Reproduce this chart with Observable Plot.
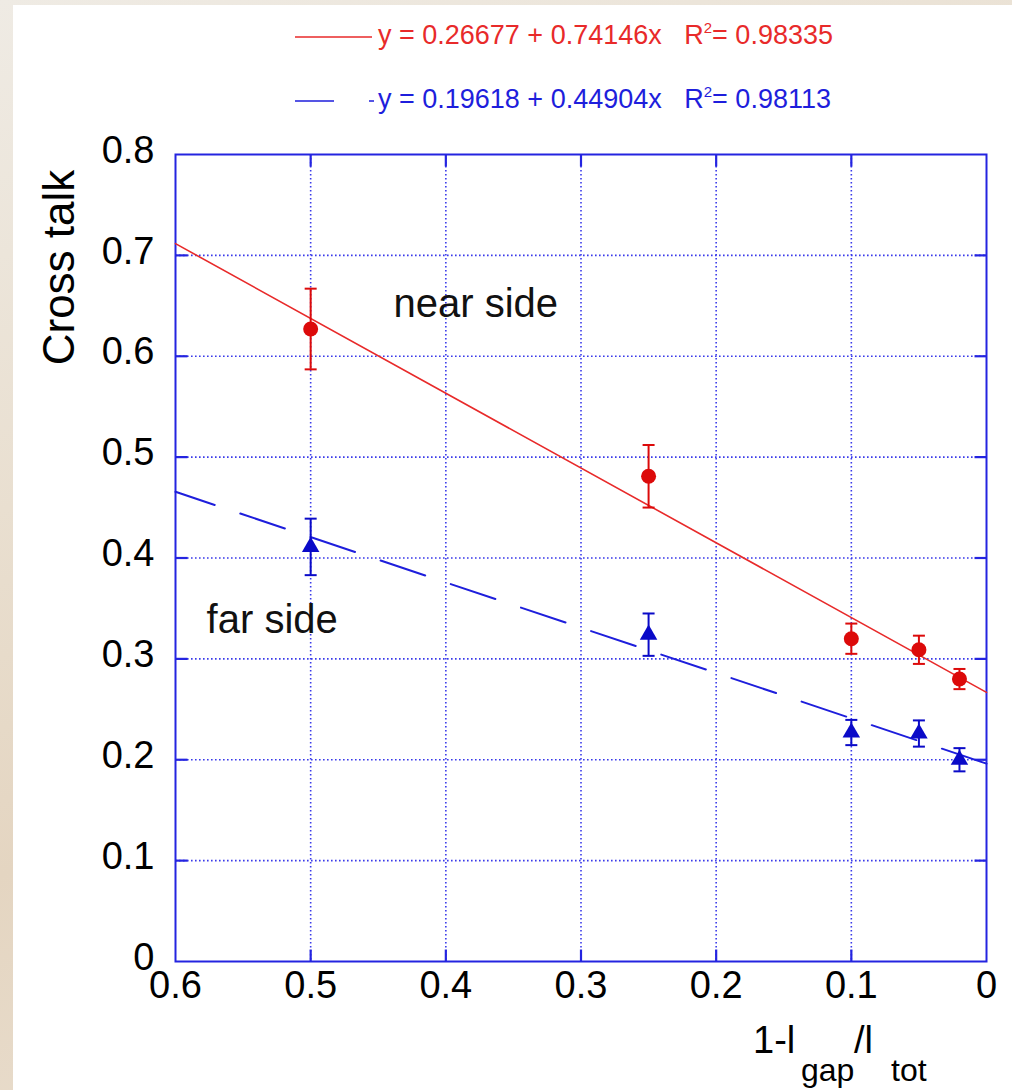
<!DOCTYPE html>
<html>
<head>
<meta charset="utf-8">
<script src="https://cdn.jsdelivr.net/npm/d3@7"></script>
<script src="https://cdn.jsdelivr.net/npm/@observablehq/plot@0.6"></script>
<style>
  html, body { margin: 0; padding: 0; }
  body {
    width: 1012px; height: 1090px; overflow: hidden; position: relative;
    background: linear-gradient(160deg, #efebe4 0%, #e9dfd0 35%, #e4d5c1 60%, #ece3d6 100%);
    font-family: "Liberation Sans", Arial, Helvetica, sans-serif;
  }
  #paper { position: absolute; left: 13px; top: 5px; width: 999px; height: 1085px; background: #fff; }
  #chart { position: absolute; left: 0; top: 0; }
  #chart svg { background: transparent; }
  .legend { position: absolute; left: 295px; font-size: 27px; white-space: nowrap; line-height: 1; }
  .legend svg { vertical-align: middle; }
  .xl { position: absolute; color: #000; white-space: nowrap; line-height: 1; }
  .xl.main { font-size: 38px; top: 1021px; }
  .xl.sub { font-size: 32px; top: 1054px; }
</style>
</head>
<body>
<div id="paper"></div>
<div id="chart"></div>
<div class="legend" id="leg1" style="top:20px"></div>
<div class="legend" id="leg2" style="top:84px"></div>
<div id="xlabel"><span class="xl main" style="left:753px">1-l</span><span class="xl sub" style="left:801px">gap</span><span class="xl main" style="left:854px">/l</span><span class="xl sub" style="left:891px">tot</span></div>
<script>
// ---- data ----
const xTickValues = [0.6, 0.5, 0.4, 0.3, 0.2, 0.1, 0];
const yTickValues = [0, 0.1, 0.2, 0.3, 0.4, 0.5, 0.6, 0.7, 0.8];
const xGridValues = [0.5, 0.4, 0.3, 0.2, 0.1];
const yGridValues = [0.1, 0.2, 0.3, 0.4, 0.5, 0.6, 0.7];
const xLimits = [0.6, 0];
const yLimits = [0, 0.8];

const gapFraction = [0.5, 0.25, 0.1, 0.05, 0.02];
const nearValues = [0.627, 0.481, 0.320, 0.309, 0.280];
const nearErrors = [0.040, 0.031, 0.015, 0.014, 0.010];
const farValues  = [0.411, 0.324, 0.227, 0.226, 0.200];
const farErrors  = [0.028, 0.021, 0.0125, 0.013, 0.0115];

const nearFit = {a: 0.26677, b: 0.74146, r2: 0.98335};
const farFit  = {a: 0.19618, b: 0.44904, r2: 0.98113};
const fitRange = [0, 0.6];

const annotations = [
  {text: "near side", x: 0.4387, y: 0.652},
  {text: "far side", x: 0.577, y: 0.338}
];

// ---- styles ----
const RED = "#dc0a0a", RED_LINE = "#e82a2a";
const BLUE = "#0a0ac8", BLUE_LINE = "#1e1edc", FRAME = "#2424e0", GRID = "#3a3aea";
const FONT = "'Liberation Sans', Arial, Helvetica, sans-serif";
const TICK = 12;

const near = gapFraction.map((x, i) => ({x, y: nearValues[i], e: nearErrors[i]}));
const far = gapFraction.map((x, i) => ({x, y: farValues[i], e: farErrors[i]}));
const nearLine = fitRange.map(x => ({x, y: nearFit.a + nearFit.b * x}));
const farLine = fitRange.map(x => ({x, y: farFit.a + farFit.b * x}));

const cap = {draw(ctx) { ctx.moveTo(-6, 0); ctx.lineTo(6, 0); }};
const tickUp = {draw(ctx) { ctx.moveTo(0, 0); ctx.lineTo(0, -TICK); }};
const tickDown = {draw(ctx) { ctx.moveTo(0, 0); ctx.lineTo(0, TICK); }};
const tickRight = {draw(ctx) { ctx.moveTo(0, 0); ctx.lineTo(TICK, 0); }};
const tickLeft = {draw(ctx) { ctx.moveTo(0, 0); ctx.lineTo(-TICK, 0); }};
const caps = (arr) => arr.flatMap(d => [{x: d.x, y: d.y - d.e}, {x: d.x, y: d.y + d.e}]);

const tickStyle = {stroke: FRAME, strokeWidth: 2.2, fill: "none"};

const chart = Plot.plot({
  width: 1012,
  height: 1090,
  marginLeft: 175,
  marginRight: 26,
  marginTop: 154,
  marginBottom: 129,
  style: {background: "transparent", fontFamily: FONT, color: "#000", overflow: "visible"},
  x: {domain: xLimits, ticks: xTickValues},
  y: {domain: yLimits, ticks: yTickValues},
  marks: [
    Plot.gridX(xGridValues, {stroke: GRID, strokeOpacity: 1, strokeWidth: 1.6, strokeDasharray: "1.6,2.4"}),
    Plot.gridY(yGridValues, {stroke: GRID, strokeOpacity: 1, strokeWidth: 1.6, strokeDasharray: "1.6,2.4"}),
    // inward ticks on all four sides
    Plot.dot(xGridValues, {x: d => d, y: () => yLimits[0], symbol: tickUp, ...tickStyle}),
    Plot.dot(xGridValues, {x: d => d, y: () => yLimits[1], symbol: tickDown, ...tickStyle}),
    Plot.dot(yGridValues, {y: d => d, x: () => xLimits[0], symbol: tickRight, ...tickStyle}),
    Plot.dot(yGridValues, {y: d => d, x: () => xLimits[1], symbol: tickLeft, ...tickStyle}),
    // tick labels
    Plot.axisX(xTickValues, {anchor: "bottom", tickSize: 0, tickPadding: 10, fontSize: 38, fill: "#000", tickFormat: d => String(d), label: null}),
    Plot.axisY(yTickValues, {anchor: "left", tickSize: 0, tickPadding: 21, fontSize: 38, fill: "#000", dy: -4, tickFormat: d => String(d), label: null}),
    Plot.frame({stroke: FRAME, strokeWidth: 2}),
    // fit lines
    Plot.line(nearLine, {x: "x", y: "y", stroke: RED_LINE, strokeWidth: 1.6}),
    Plot.line(farLine, {x: "x", y: "y", stroke: BLUE_LINE, strokeWidth: 2, strokeDasharray: "47,27"}),
    // error bars
    Plot.ruleX(near, {x: "x", y1: d => d.y - d.e, y2: d => d.y + d.e, stroke: RED, strokeWidth: 2}),
    Plot.dot(caps(near), {x: "x", y: "y", symbol: cap, stroke: RED, strokeWidth: 2, fill: "none"}),
    Plot.ruleX(far, {x: "x", y1: d => d.y - d.e, y2: d => d.y + d.e, stroke: BLUE, strokeWidth: 2}),
    Plot.dot(caps(far), {x: "x", y: "y", symbol: cap, stroke: BLUE, strokeWidth: 2, fill: "none"}),
    // markers
    Plot.dot(near, {x: "x", y: "y", r: 7.5, fill: RED, stroke: "none"}),
    Plot.dot(far, {x: "x", y: "y", r: 6.5, symbol: "triangle", fill: BLUE, stroke: "none"}),
    // annotations
    Plot.text(annotations, {x: "x", y: "y", text: "text", textAnchor: "start", fontSize: 40, fill: "#111"}),
    // y axis title
    Plot.text(["Cross talk"], {frameAnchor: "top-left", dx: -133, dy: 113, rotate: -90, textAnchor: "middle", fontSize: 44, fill: "#000"})
  ]
});
document.getElementById("chart").appendChild(chart);

// legend
function legend(id, color, dash, fit) {
  const el = document.getElementById(id);
  el.style.color = color;
  const sw = `<svg width="83" height="14"><line x1="0" x2="${dash ? 79 : 77}" y1="7" y2="7" stroke="${color}" stroke-width="1.6" ${dash ? 'stroke-dasharray="39,35"' : ''}/></svg>`;
  el.innerHTML = sw + `<span>y = ${fit.a} + ${fit.b}x&nbsp;&nbsp; R<sup style="font-size:15px;vertical-align:11px">2</sup>= ${fit.r2}</span>`;
}
legend("leg1", RED_LINE, false, nearFit);
legend("leg2", BLUE_LINE, true, farFit);
</script>
</body>
</html>
